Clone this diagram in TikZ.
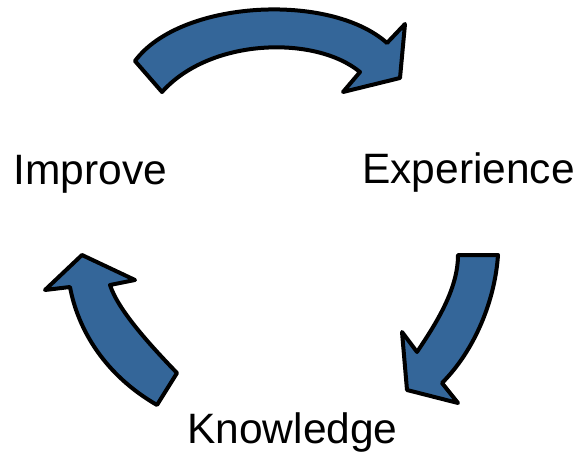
\documentclass[tikz,border=0pt]{standalone}
\usepackage{fontspec}
\setmainfont{Liberation Sans}
\usepackage{tikz}
\definecolor{cycleblue}{RGB}{52,102,153}
\tikzset{
	blockarrow/.style={draw=black, fill=cycleblue, line width=4pt, line join=round},
	steplabel/.style={anchor=base, inner sep=0pt, font=\fontsize{42.5}{50}\selectfont}
}

\begin{document}
\begin{tikzpicture}[x=1pt, y=-1pt]
			%%%%% START %%%%%
			\useasboundingbox (0, 0) rectangle (580, 457);
			
			\node[steplabel] (improve) at (90.5, 184) {Improve};
			\node[steplabel] (experience) at (468.5, 183) {Experience};
			\node[steplabel] (knowledge) at (292.5, 443) {Knowledge};
			
			% top arrow
			\draw[blockarrow] (135, 61) .. controls (180, 0) and (330, -8) .. (387, 43)
				-- (405, 24) -- (400, 78) -- (343, 92) -- (360, 72)
				.. controls (315, 35) and (210, 38) .. (162, 92) -- cycle;
			
			% right arrow
			\draw[blockarrow] (458, 255) -- (498, 255)
				.. controls (495, 300) and (475, 350) .. (442, 383)
				-- (458, 403) -- (407, 390) -- (402, 332) -- (417, 352)
				.. controls (435, 325) and (458, 290) .. cycle;
			
			% left arrow
			\draw[blockarrow] (157, 405) -- (177, 373)
				.. controls (150, 345) and (118, 310) .. (110, 285)
				-- (135, 280) -- (82, 255) -- (45, 290) -- (70, 287)
				.. controls (78, 330) and (105, 375) .. cycle;
			
			%%%%% END %%%%%
\end{tikzpicture}
\end{document}
